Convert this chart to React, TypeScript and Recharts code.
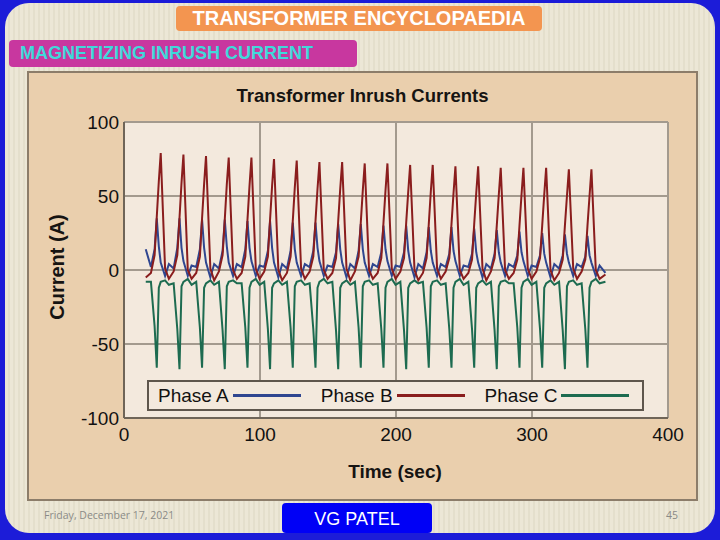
import React from "react";
import {
	LineChart,
	Line,
	XAxis,
	YAxis,
	CartesianGrid,
	Legend,
} from "recharts";

// time in seconds, currents in amps
const time = [
	16,
	19.8, 22.5, 24.1, 25.6, 27, 30.2, 33,
	36.5, 39.2, 40.8, 42.3, 43.7, 46.9, 49.7,
	53.1, 55.8, 57.4, 58.9, 60.3, 63.5, 66.3,
	69.8, 72.5, 74.1, 75.6, 77, 80.2, 83,
	86.5, 89.2, 90.8, 92.3, 93.7, 96.9, 99.7,
	103.1, 105.8, 107.4, 108.9, 110.3, 113.5, 116.3,
	119.8, 122.5, 124.1, 125.6, 127, 130.2, 133,
	136.5, 139.2, 140.8, 142.3, 143.7, 146.9, 149.7,
	153.2, 155.9, 157.5, 159, 160.4, 163.6, 166.4,
	169.8, 172.5, 174.1, 175.6, 177, 180.2, 183,
	186.5, 189.2, 190.8, 192.3, 193.7, 196.9, 199.7,
	203.2, 205.9, 207.5, 209, 210.4, 213.6, 216.4,
	219.8, 222.5, 224.1, 225.6, 227, 230.2, 233,
	236.5, 239.2, 240.8, 242.3, 243.7, 246.9, 249.7,
	253.2, 255.9, 257.5, 259, 260.4, 263.6, 266.4,
	269.8, 272.5, 274.1, 275.6, 277, 280.2, 283,
	286.5, 289.2, 290.8, 292.3, 293.7, 296.9, 299.7,
	303.2, 305.9, 307.5, 309, 310.4, 313.6, 316.4,
	319.9, 322.6, 324.2, 325.7, 327.1, 330.3, 333.1,
	336.5, 339.2, 340.8, 342.3, 343.7, 346.9, 349.7,
	354,
];

const phaseA = [
	14,
	2, 14, 35, 16, 5, -4, 4,
	1, 15, 35, 15, 6, -4, 3,
	2, 14, 34, 15, 5, -5, 4,
	1, 13, 34, 16, 5, -4, 4,
	2, 14, 33, 15, 6, -4, 3,
	2, 13, 33, 15, 5, -5, 4,
	1, 13, 32, 14, 5, -4, 4,
	2, 13, 32, 15, 6, -4, 3,
	2, 12, 31, 14, 5, -5, 4,
	1, 13, 31, 14, 5, -4, 4,
	2, 12, 30, 14, 6, -4, 3,
	2, 12, 30, 13, 5, -5, 4,
	1, 12, 29, 13, 5, -4, 4,
	2, 11, 29, 13, 6, -4, 3,
	2, 11, 28, 12, 5, -5, 4,
	1, 11, 27, 12, 5, -4, 4,
	2, 10, 26, 12, 6, -4, 3,
	2, 10, 25, 11, 5, -5, 4,
	1, 10, 24, 11, 5, -4, 4,
	2, 9, 23, 10, 5, -4, 3,
	-2,
];

const phaseB = [
	-5,
	-2, 10, 36, 60, 79, 1, -6,
	-1, 10, 35, 59, 78, 0, -6,
	-2, 9, 35, 58, 77, 1, -7,
	-1, 10, 34, 58, 76, 0, -6,
	-2, 9, 34, 57, 76, 1, -6,
	-1, 9, 34, 57, 75, 0, -7,
	-2, 9, 33, 56, 74, 1, -6,
	-1, 9, 33, 55, 73, 0, -6,
	-2, 8, 33, 55, 73, 1, -7,
	-1, 9, 32, 54, 72, 0, -6,
	-2, 8, 32, 54, 72, 1, -6,
	-1, 8, 32, 53, 71, 0, -7,
	-2, 8, 31, 53, 71, 1, -6,
	-1, 8, 31, 52, 70, 0, -6,
	-2, 7, 31, 52, 70, 1, -7,
	-1, 8, 30, 51, 69, 0, -6,
	-2, 7, 30, 51, 69, 1, -6,
	-1, 8, 30, 51, 69, 0, -7,
	-2, 7, 30, 50, 68, 1, -6,
	-1, 7, 30, 50, 68, 0, -6,
	-3,
];

const phaseC = [
	-8,
	-8, -38, -66, -12, -8, -7, -10,
	-9, -40, -67, -11, -8, -6, -10,
	-8, -39, -66, -12, -9, -7, -10,
	-8, -41, -67, -11, -8, -7, -9,
	-9, -39, -66, -12, -8, -6, -10,
	-8, -40, -67, -12, -9, -7, -10,
	-8, -39, -66, -11, -8, -7, -10,
	-9, -40, -66, -12, -8, -6, -9,
	-8, -41, -67, -12, -9, -7, -10,
	-8, -39, -66, -11, -8, -7, -10,
	-9, -40, -66, -12, -8, -6, -10,
	-8, -41, -67, -12, -9, -7, -9,
	-8, -39, -66, -11, -8, -7, -10,
	-9, -40, -66, -12, -8, -6, -10,
	-8, -40, -66, -12, -9, -7, -10,
	-8, -41, -67, -11, -8, -7, -9,
	-9, -39, -66, -12, -8, -6, -10,
	-8, -40, -66, -12, -9, -7, -10,
	-8, -41, -67, -11, -8, -7, -10,
	-9, -40, -66, -12, -8, -6, -9,
	-8,
];

const xTicks = [0, 100, 200, 300, 400];
const yTicks = [-100, -50, 0, 50, 100];

const series = [
	{ key: "c", name: "Phase C", color: "#1d6b50" },
	{ key: "a", name: "Phase A", color: "#2f4690" },
	{ key: "b", name: "Phase B", color: "#8a1d1d" },
];
const legendOrder = ["a", "b", "c"];

const data = time.map((t, i) => ({
	t,
	a: phaseA[i],
	b: phaseB[i],
	c: phaseC[i],
}));

const sans = "'Liberation Sans', Arial, sans-serif";

function PhaseLegend() {
	return (
		<div
			style={{
				boxSizing: "border-box",
				width: 497,
				height: 31,
				border: "2px solid #5e564c",
				background: "#f3e9dd",
				display: "flex",
				alignItems: "center",
				paddingLeft: 9,
				fontFamily: sans,
				fontSize: 19,
				color: "#111",
				whiteSpace: "nowrap",
			}}
		>
			{legendOrder.map((k) => {
				const s = series.find((x) => x.key === k)!;
				return (
					<div key={k} style={{ display: "flex", alignItems: "center", marginRight: 20 }}>
						<span>{s.name}</span>
						<span
							style={{
								display: "inline-block",
								width: 68,
								height: 3,
								marginLeft: 4,
								background: s.color,
							}}
						/>
					</div>
				);
			})}
		</div>
	);
}

export default function App() {
	return (
		<div
			style={{
				position: "absolute",
				left: 0,
				top: 0,
				width: 720,
				height: 540,
				background: "#1c1cd8",
				overflow: "hidden",
			}}
		>
			{/* slide panel */}
			<div
				style={{
					position: "absolute",
					left: 5,
					top: 3,
					width: 710,
					height: 530,
					borderRadius: 24,
					background:
						"repeating-linear-gradient(90deg, #ece7d6 0px, #ece7d6 3px, #e4dfcc 3px, #e4dfcc 5px)",
				}}
			/>
			<div
				style={{
					position: "absolute",
					left: 176,
					top: 6,
					width: 366,
					height: 25,
					borderRadius: 4,
					background: "#f39550",
					color: "#fff",
					fontFamily: sans,
					fontWeight: "bold",
					fontSize: 20,
					lineHeight: "25px",
					textAlign: "center",
				}}
			>
				TRANSFORMER ENCYCLOPAEDIA
			</div>
			<div
				style={{
					position: "absolute",
					left: 9,
					top: 40,
					width: 348,
					height: 27,
					borderRadius: 4,
					background: "#c8379f",
					color: "#3fd9da",
					fontFamily: sans,
					fontWeight: "bold",
					fontSize: 18,
					lineHeight: "27px",
					paddingLeft: 11,
					boxSizing: "border-box",
				}}
			>
				MAGNETIZING INRUSH CURRENT
			</div>

			{/* chart picture frame */}
			<div
				style={{
					position: "absolute",
					left: 27,
					top: 71,
					width: 671,
					height: 430,
					boxSizing: "border-box",
					border: "2px solid #8c7d6a",
					background: "#eacfad",
				}}
			/>
			<div
				style={{
					position: "absolute",
					left: 28,
					top: 85,
					width: 669,
					textAlign: "center",
					fontFamily: sans,
					fontWeight: "bold",
					fontSize: 18.5,
					color: "#161412",
				}}
			>
				Transformer Inrush Currents
			</div>
			<div
				style={{
					position: "absolute",
					left: 57,
					top: 267,
					transform: "translate(-50%, -50%) rotate(-90deg)",
					whiteSpace: "nowrap",
					fontFamily: sans,
					fontWeight: "bold",
					fontSize: 20,
					color: "#161412",
				}}
			>
				Current (A)
			</div>
			<div
				style={{
					position: "absolute",
					left: 395,
					top: 472,
					transform: "translate(-50%, -50%)",
					whiteSpace: "nowrap",
					fontFamily: sans,
					fontWeight: "bold",
					fontSize: 19,
					color: "#161412",
				}}
			>
				Time (sec)
			</div>

			<div style={{ position: "absolute", left: 28, top: 72 }}>
				<LineChart
					width={669}
					height={428}
					data={data}
					margin={{ top: 50, right: 29, bottom: 0, left: 0 }}
				>
					<CartesianGrid
						fill="#f3e9dd"
						stroke="#a39a8e"
						strokeWidth={2}
						horizontalValues={yTicks}
						verticalValues={xTicks}
					/>
					<XAxis
						dataKey="t"
						type="number"
						domain={[0, 400]}
						ticks={xTicks}
						height={82}
						interval={0}
						tickLine={false}
						tickSize={4}
						tickMargin={6}
						axisLine={{ stroke: "#6f6558", strokeWidth: 2 }}
						tick={{ fill: "#111", fontSize: 19, fontFamily: sans }}
					/>
					<YAxis
						type="number"
						domain={[-100, 100]}
						ticks={yTicks}
						width={96}
						interval={0}
						tickLine={false}
						tickSize={3}
						tickMargin={2}
						axisLine={{ stroke: "#6f6558", strokeWidth: 2 }}
						tick={{ fill: "#111", fontSize: 19, fontFamily: sans }}
					/>
					<Legend
						layout="horizontal"
						verticalAlign="middle"
						align="center"
						content={() => <PhaseLegend />}
						wrapperStyle={{ left: 119, top: 308, width: 497, height: 31 }}
					/>
					{series.map((s) => (
						<Line
							key={s.key}
							dataKey={s.key}
							name={s.name}
							stroke={s.color}
							strokeWidth={2}
							dot={false}
							type="linear"
							isAnimationActive={false}
						/>
					))}
				</LineChart>
			</div>

			{/* footer */}
			<div
				style={{
					position: "absolute",
					left: 44,
					top: 508,
					fontFamily: "'Open Sans', sans-serif",
					fontSize: 10.5,
					color: "#8a8a86",
				}}
			>
				Friday, December 17, 2021
			</div>
			<div
				style={{
					position: "absolute",
					left: 282,
					top: 503,
					width: 150,
					height: 30,
					borderRadius: 4,
					background: "#0000f6",
					color: "#fff",
					fontFamily: sans,
					fontSize: 18,
					lineHeight: "32px",
					textAlign: "center",
				}}
			>
				VG PATEL
			</div>
			<div
				style={{
					position: "absolute",
					left: 666,
					top: 508,
					fontFamily: "'Open Sans', sans-serif",
					fontSize: 10.5,
					color: "#8a8a86",
				}}
			>
				45
			</div>
		</div>
	);
}
